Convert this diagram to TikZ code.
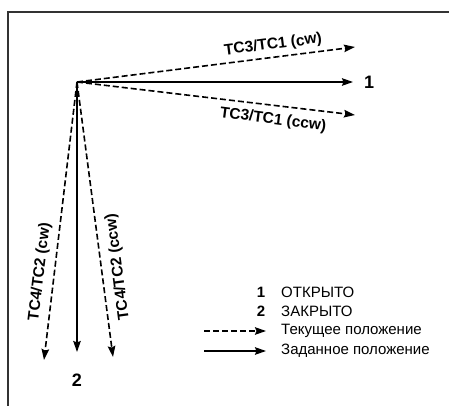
\documentclass[tikz,border=0pt]{standalone}
\usepackage{fontspec}
\setmainfont{Liberation Sans}
\usetikzlibrary{arrows.meta, positioning}

\begin{document}
\begin{tikzpicture}[
    x=1pt, y=-1pt,
    frame/.style={line width=1.5pt, draw=black!80},
    actual/.style={line width=1.6pt, dash pattern=on 6pt off 3pt, -{Stealth[length=11pt, width=7.5pt, inset=1.5pt]}},
    target/.style={line width=1.6pt, -{Stealth[length=11pt, width=7.5pt, inset=1.5pt]}},
    tag/.style={font=\bfseries\fontsize{15.5}{15.5}\selectfont, inner sep=1pt},
    num/.style={font=\bfseries\fontsize{18}{18}\selectfont, inner sep=0pt},
    legend/.style={font=\fontsize{15}{17}\selectfont, anchor=west, inner sep=0pt}
]
\useasboundingbox (0,0) rectangle (449,406);

% Frame
\draw [frame] (449,12) -- (8,12) -- (8,406);

% Points
\coordinate (o) at (77,82);
\coordinate (open) at (353,82);
\coordinate (opencw) at (355,47);
\coordinate (openccw) at (355,115);
\coordinate (close) at (77,352);
\coordinate (closecw) at (44,360);
\coordinate (closeccw) at (113,357);

% Arrows
\draw [target] (o) -- (open);
\draw [actual] (o) -- (opencw);
\draw [actual] (o) -- (openccw);
\draw [target] (o) -- (close);
\draw [actual] (o) -- (closecw);
\draw [actual] (o) -- (closeccw);

% Labels
\node (n1) [num, anchor=west] at (364,82) {1};
\node (n2) [num] at (77,380) {2};
\node (tcw) [tag, rotate=7.2] at (273,45) {TC3/TC1 (cw)};
\node (tccw) [tag, rotate=-7.2] at (273,120) {TC3/TC1 (ccw)};
\node (bcw) [tag, rotate=83.2] at (40,272) {TC4/TC2 (cw)};
\node (bccw) [tag, rotate=97.5] at (118,267) {TC4/TC2 (ccw)};

% Legend
\node (l1) [num, font=\bfseries\fontsize{15}{15}\selectfont] at (261,292) {1};
\node (t1) [legend] at (281,292) {ОТКРЫТО};
\node (l2) [num, font=\bfseries\fontsize{15}{15}\selectfont] at (261,311) {2};
\node (t2) [legend] at (281,311) {ЗАКРЫТО};
\node (t3) [legend] at (281,331) {Текущее положение};
\node (t4) [legend] at (281,351) {Заданное положение};
\coordinate (a3) at (204,331);
\coordinate (a4) at (204,351);
\draw [actual] (a3) -- ([xshift=-15pt]t3.west);
\draw [target] (a4) -- ([xshift=-15pt]t4.west);

\end{tikzpicture}
\end{document}
